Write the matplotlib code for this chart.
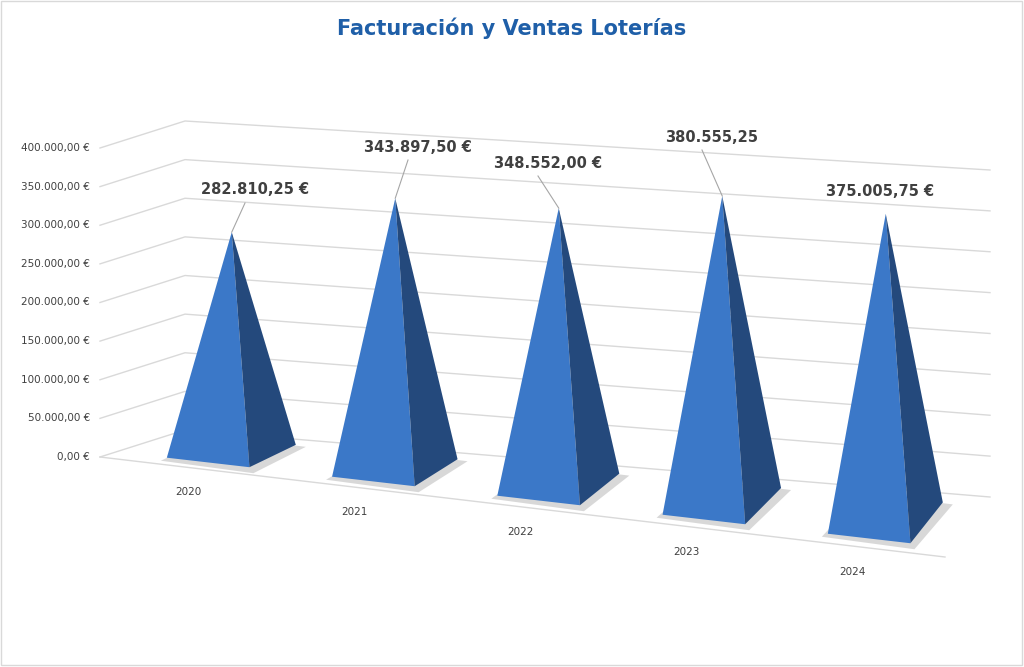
import matplotlib.pyplot as plt
from matplotlib.patches import Polygon, Rectangle
import numpy as np

years = ['2020', '2021', '2022', '2023', '2024']
values = [282810.25, 343897.50, 348552.00, 380555.25, 375005.75]
labels = ['282.810,25 €', '343.897,50 €', '348.552,00 €', '380.555,25', '375.005,75 €']
ticks = np.arange(0, 400001, 50000)
tick_labels = ['{:,.2f} €'.format(t).replace(',', 'X').replace('.', ',').replace('X', '.') for t in ticks]

# floor corners in pixel space (front-left, front-right, back-left, back-right)
FL, FR, BL, BR = np.array([115, 457]), np.array([945, 557]), np.array([185, 430]), np.array([990, 497])
VMAX = 400000


def proj(u, d, v):
    front = FL + (FR - FL) * u
    back = BL + (BR - BL) * u
    p = front + (back - front) * d
    h = (309 + 18 * u) * v / VMAX
    return p[0], p[1] - h


fig = plt.figure(figsize=(10.24, 6.67), dpi=100)
ax = fig.add_axes([0, 0, 1, 1])
ax.set_xlim(0, 1024)
ax.set_ylim(667, 0)
ax.axis('off')
ax.add_patch(Rectangle((1, 1), 1021, 664, fill=False, ec='#d9d9d9', lw=1))

ax.text(512, 28, 'Facturación y Ventas Loterías', ha='center', va='center',
        fontsize=15, fontweight='bold', color='#1f5fa8')

# gridlines on side wall and back wall
for t, lab in zip(ticks, tick_labels):
    a = proj(0, 0, t); b = proj(0, 1, t); c = proj(1, 1, t)
    ax.plot([a[0] - 15, b[0], c[0]], [a[1], b[1], c[1]], color='#d9d9d9', lw=1, zorder=1)
    ax.text(a[0] - 25, a[1], lab, ha='right', va='center', fontsize=7.5, color='#404040')

a = proj(0, 0, 0); b = proj(1, 0, 0)
ax.plot([a[0] - 15, b[0]], [a[1], b[1]], color='#d9d9d9', lw=1, zorder=1)

# pyramids
hu, hd = 0.05, 0.35
label_pos = [(255, 190), (418, 147), (548, 163), (712, 137), (880, 192)]
for i, (yr, v, lab) in enumerate(zip(years, values, labels)):
    u = (i + 0.5) / len(years)
    fl = proj(u - hu, 0.5 - hd, 0); fr = proj(u + hu, 0.5 - hd, 0)
    br = proj(u + hu, 0.5 + hd, 0); bl = proj(u - hu, 0.5 + hd, 0)
    apex = proj(u, 0.5, v)
    # shadow
    sh = [(fl[0] - 6, fl[1] + 3), (fr[0] + 4, fr[1] + 6), (br[0] + 10, br[1] + 2), (bl[0], bl[1] - 2)]
    ax.add_patch(Polygon(sh, closed=True, fc='#bfbfbf', ec='none', alpha=0.6, zorder=2))
    ax.add_patch(Polygon([fl, fr, apex], closed=True, fc='#3b78c8', ec='none', zorder=3))
    ax.add_patch(Polygon([fr, br, apex], closed=True, fc='#24497c', ec='none', zorder=3))
    # year label below front edge
    fx, fy = proj(u, 0, 0)
    ax.text(fx - 10, fy + 25, yr, ha='center', va='center', fontsize=7.5, color='#404040')
    # value label with leader
    lx, ly = label_pos[i]
    ax.text(lx, ly, lab, ha='center', va='center', fontsize=10.5, fontweight='bold', color='#404040')
    if i != 4:
        ax.plot([apex[0], lx - 10], [apex[1], ly + 13], color='#a6a6a6', lw=0.8, zorder=4)

fig.savefig('out.png', dpi=100)
